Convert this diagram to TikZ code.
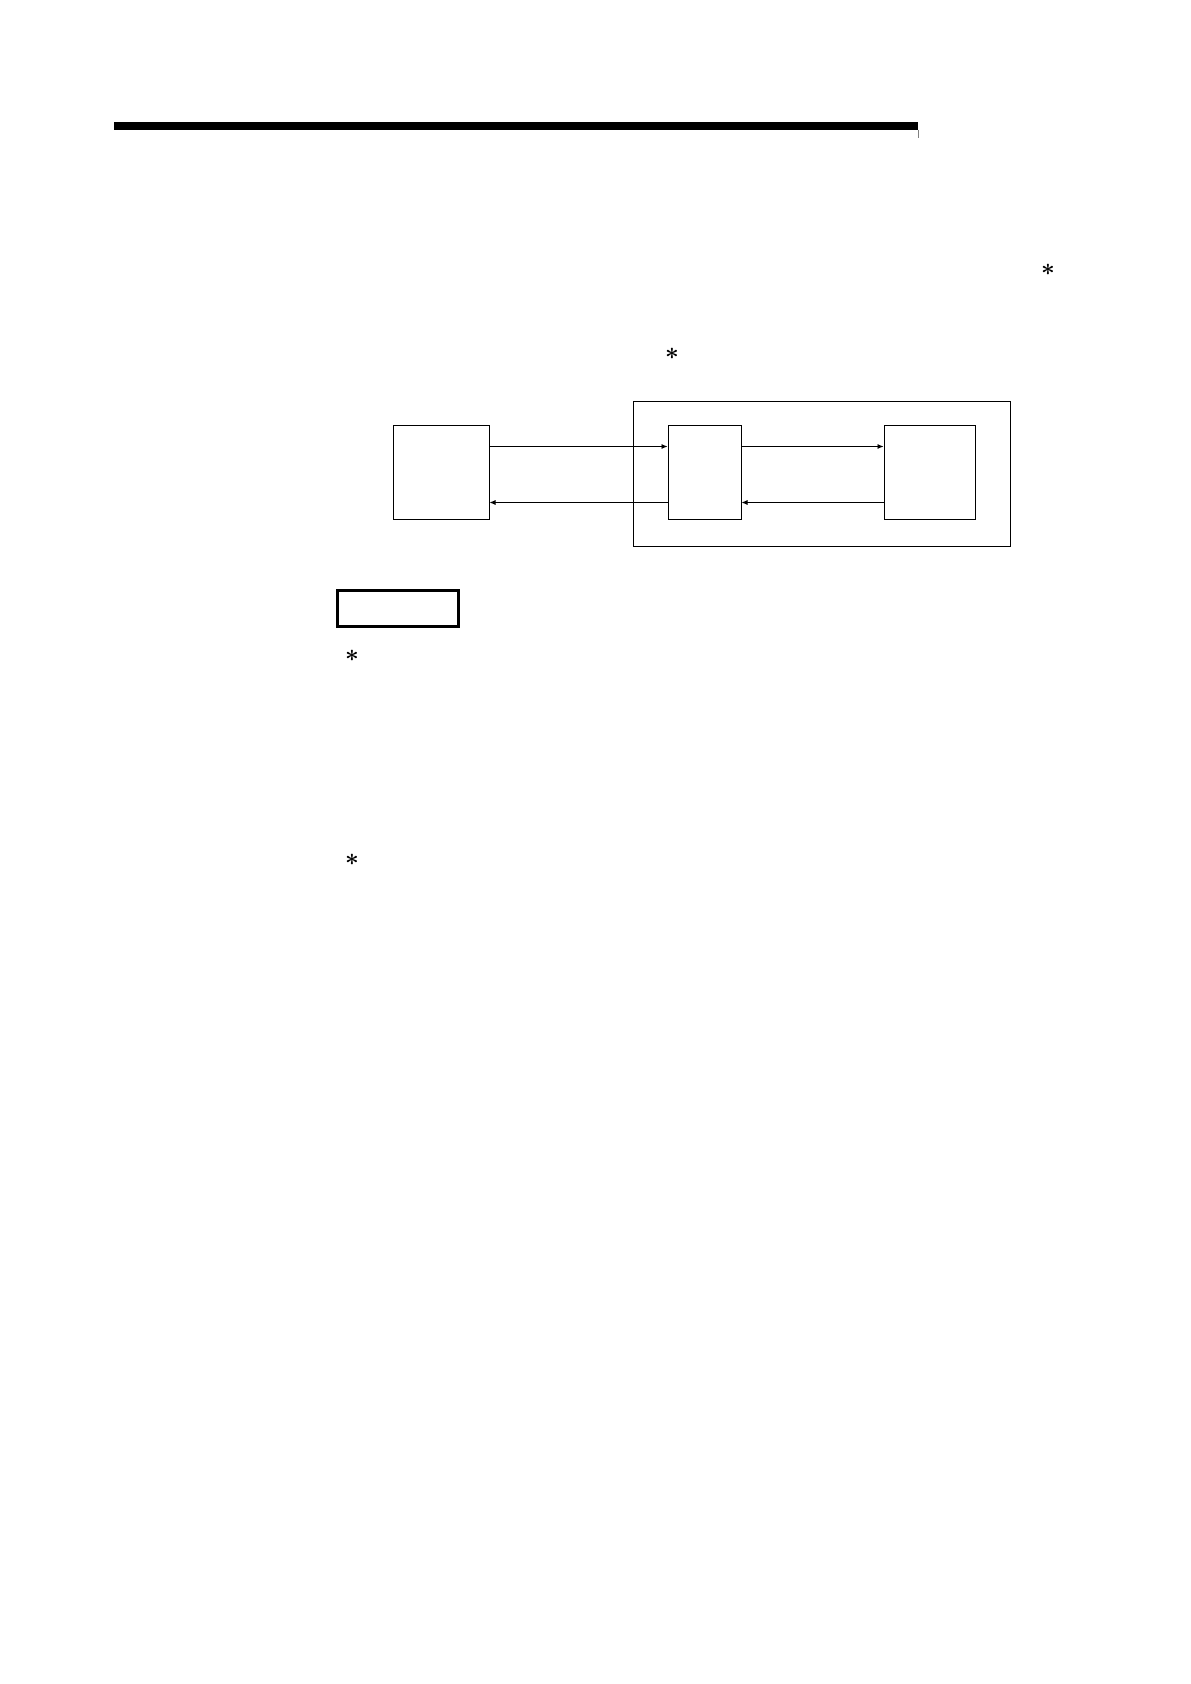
\documentclass[tikz,border=0pt]{standalone}
\usepackage{amsmath}
\usepackage{tikz}
\usetikzlibrary{shapes,positioning,arrows,arrows.meta}
\tikzset {
geraet/.style={shape=rectangle,draw,line width=0.5pt,minimum height=46.5pt,inner sep=0pt},
rahmen/.style={shape=rectangle,draw,line width=0.5pt,minimum width=188.5pt,minimum height=72pt,inner sep=0pt},
stern/.style={inner sep=0pt,font=\large}
}
\begin{document}
\begin{tikzpicture}
[>={Latex[length=3pt,width=2.5pt]},x=0.5pt,y=-0.5pt]
\useasboundingbox (0,0) rectangle (1190,1684);
\fill (114,122) rectangle (918,130);
\draw[gray,very thin] (918,130) -- (918,138);
\node[stern] (stern oben) at (1048,270) {$\boldsymbol{\ast}$};
\node[stern] (stern mitte) at (672,354) {$\boldsymbol{\ast}$};
\node[rahmen] (modul rahmen) at (821.5,474) {};
\node[geraet,minimum width=48pt] (externes geraet) at (441,472.5) {};
\node[geraet,minimum width=36.5pt] (schnittstelle) at (704.5,472.5) {};
\node[geraet,minimum width=45.5pt] (cpu) at (929.5,472.5) {};
\node[draw,line width=1.5pt,minimum width=60.5pt,minimum height=18pt,inner sep=0pt] (hinweis) at (397.5,608) {};
\node[stern] (stern eins) at (352,656) {$\boldsymbol{\ast}$};
\node[stern] (stern zwei) at (352,860) {$\boldsymbol{\ast}$};

\draw[->] ([yshift=13pt]externes geraet.east) to ([yshift=13pt]schnittstelle.west);
\draw[->] ([yshift=-15pt]schnittstelle.west) to ([yshift=-15pt]externes geraet.east);
\draw[->] ([yshift=13pt]schnittstelle.east) to ([yshift=13pt]cpu.west);
\draw[->] ([yshift=-15pt]cpu.west) to ([yshift=-15pt]schnittstelle.east);
\end{tikzpicture}
\end{document}
